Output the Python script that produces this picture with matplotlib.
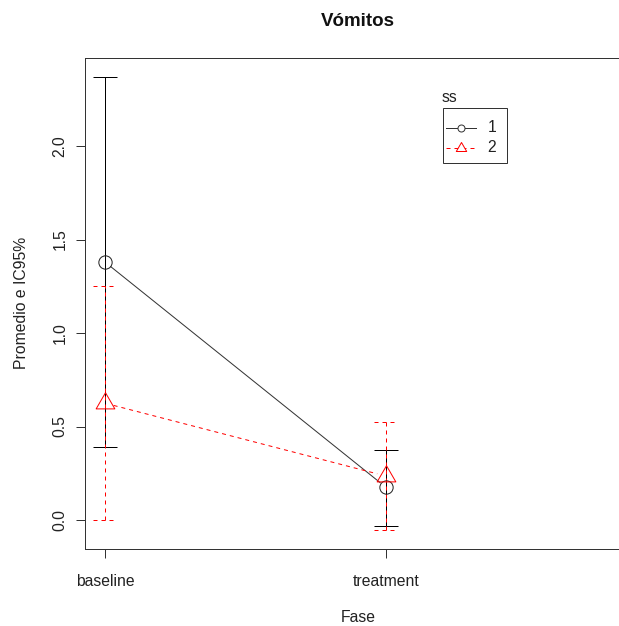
import matplotlib
matplotlib.use("Agg")
import matplotlib.pyplot as plt
import numpy as np
from matplotlib.path import Path
from matplotlib.lines import Line2D
from matplotlib.patches import Rectangle

plt.rcParams['font.family'] = ['Liberation Sans', 'DejaVu Sans']
plt.rcParams['lines.scale_dashes'] = False

fase = ["baseline", "treatment"]
grupos = ["1", "2"]
media_1 = [1.38, 0.175]
lo_1 = [0.39, -0.03]
hi_1 = [2.37, 0.375]
media_2 = [0.625, 0.235]
lo_2 = [0.0, -0.055]
hi_2 = [1.25, 0.525]
yticks = [0.0, 0.5, 1.0, 1.5, 2.0]

W, H = 619, 626
px = 72.0 / 100  # points per pixel at dpi 100
DASH = (4 * px, 4 * px)

# triangle centred on its centroid, like R's pch 2
tri = Path([(0, 1), (-0.866, -0.5), (0.866, -0.5), (0, 1)],
           [Path.MOVETO, Path.LINETO, Path.LINETO, Path.CLOSEPOLY])

fig = plt.figure(figsize=(W / 100, H / 100), dpi=100)
left_px, right_px, top_px, bot_px = 84.7, 631, 58, 549
ax = fig.add_axes([left_px / W, 1 - bot_px / H,
                   (right_px - left_px) / W, (bot_px - top_px) / H])

x = np.arange(1, len(fase) + 1)
ax.set_xlim(0.928, 2.872)
ax.set_ylim(-0.155, 2.471)

cap = 0.043
lw = 1 * px

# error bars
ax.vlines(x, lo_1, hi_1, color="black", lw=lw)
ax.hlines(lo_1, x - cap, x + cap, color="black", lw=lw)
ax.hlines(hi_1, x - cap, x + cap, color="black", lw=lw)
for arr in (lo_2, hi_2):
    for xi, yi in zip(x, arr):
        ax.plot([xi - cap, xi + cap], [yi, yi], color="red", lw=lw,
                dashes=DASH)
for xi, a, b in zip(x, lo_2, hi_2):
    ax.plot([xi, xi], [a, b], color="red", lw=lw, dashes=DASH)


def gapped(xs, ys, gap_px):
    # shorten the joining line so it stops at the symbol, like type="b"
    p = ax.transData.transform(np.column_stack([xs, ys]))
    d = p[1] - p[0]
    u = d / np.hypot(*d)
    q = np.array([p[0] + u * gap_px, p[1] - u * gap_px])
    return ax.transData.inverted().transform(q).T


gx, gy = gapped(x, media_1, 7.5)
ax.plot(gx, gy, color="#333333", lw=lw)
gx, gy = gapped(x, media_2, 9)
ax.plot(gx, gy, color="red", lw=lw, dashes=DASH)

ax.plot(x, media_1, ls="none", marker="o", ms=13.3 * px, mfc="none",
        mec="#222222", mew=lw)
ax.plot(x, media_2, ls="none", marker=tri, ms=21.6 * px, mfc="none",
        mec="red", mew=lw)

for s in ax.spines.values():
    s.set_color("#333333")
    s.set_linewidth(lw)

ax.set_xticks(x)
ax.set_xticklabels(fase, fontsize=11.3)
ax.set_yticks(yticks)
ax.set_yticklabels([f"{v:.1f}" for v in yticks], fontsize=11.3, rotation=90,
                   va="center")
ax.tick_params(axis="both", length=9.4 * px, width=lw, color="#333333",
               labelcolor="#222222")
ax.tick_params(axis="x", pad=11)
ax.tick_params(axis="y", pad=5.5)

fig.text(22 / W, 1 - 303 / H, "Promedio e IC95%", rotation=90,
         ha="center", va="center", fontsize=11.3, color="#222222")
fig.text(358 / W, 1 - 618 / H, "Fase", ha="center", va="center",
         fontsize=11.3, color="#222222")
fig.text(358 / W, 1 - 21 / H, "Vómitos", ha="center", va="center",
         fontsize=13.5, fontweight="bold", color="#111111")

# legend drawn as in R
fig.text(442 / W, 1 - 97 / H, "ss", ha="left", va="center", fontsize=11.3,
         color="#222222")
fig.patches.append(Rectangle((442.7 / W, 1 - 163.3 / H), 64 / W, 55 / H,
                             transform=fig.transFigure, fill=False,
                             edgecolor="#333333", lw=lw))
fig.lines.append(Line2D([446 / W, 476 / W], [1 - 128 / H, 1 - 128 / H],
                        transform=fig.transFigure, color="#333333", lw=lw))
fig.lines.append(Line2D([461 / W], [1 - 128 / H], transform=fig.transFigure,
                        ls="none", marker="o", ms=7 * px, mfc="white",
                        mec="#333333", mew=lw))
fig.lines.append(Line2D([446 / W, 476 / W], [1 - 148 / H, 1 - 148 / H],
                        transform=fig.transFigure, color="red", lw=lw,
                        dashes=DASH))
fig.lines.append(Line2D([461 / W], [1 - 148 / H], transform=fig.transFigure,
                        ls="none", marker=tri, ms=12 * px, mfc="white",
                        mec="red", mew=lw))
for lab, yy in zip(grupos, [128, 148]):
    fig.text(492 / W, 1 - yy / H, lab, ha="center", va="center",
             fontsize=11.3, color="#222222")

fig.savefig("out.png", dpi=100)
